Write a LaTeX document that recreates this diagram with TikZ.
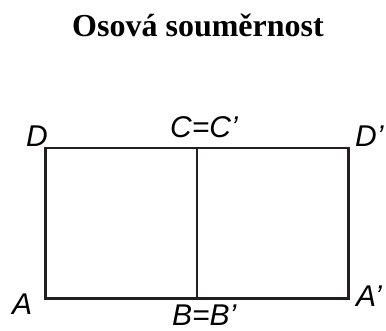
\documentclass[tikz,border=0pt]{standalone}
\usepackage{fontspec}
\setmainfont{Liberation Serif}
\setsansfont{Liberation Sans}
\begin{document}
\begin{tikzpicture}[x=1pt,y=-1pt,
  lbl/.style={font=\sffamily\itshape\fontsize{30}{30}\selectfont, inner sep=0pt, anchor=base west, text=black},
  edge/.style={line width=2.6pt, draw={rgb,255:red,35;green,31;blue,32}, line cap=rect}]
\useasboundingbox (0,0) rectangle (386,331);
\node[font=\bfseries\fontsize{32}{32}\selectfont, inner sep=0pt, anchor=base] (title) at (198,37) {Osová souměrnost};
\coordinate (pA) at (45.5,298.5);
\coordinate (pD) at (45.5,148);
\coordinate (pC) at (197,148);
\coordinate (pB) at (197,298.5);
\coordinate (pDp) at (348.5,148);
\coordinate (pAp) at (348.5,298.5);
\draw[edge] (pA) -- (pD) -- (pDp) -- (pAp) -- cycle;
\draw[edge] (pC) -- (pB);
\node[lbl] (lD) at (26,147) {D};
\node[lbl] (lC) at (170,138) {C=C’};
\node[lbl] (lDp) at (355,147) {D’};
\node[lbl] (lA) at (12,315) {A};
\node[lbl] (lB) at (172,325.5) {B=B’};
\node[lbl] (lAp) at (356,307) {A’};
\end{tikzpicture}
\end{document}
